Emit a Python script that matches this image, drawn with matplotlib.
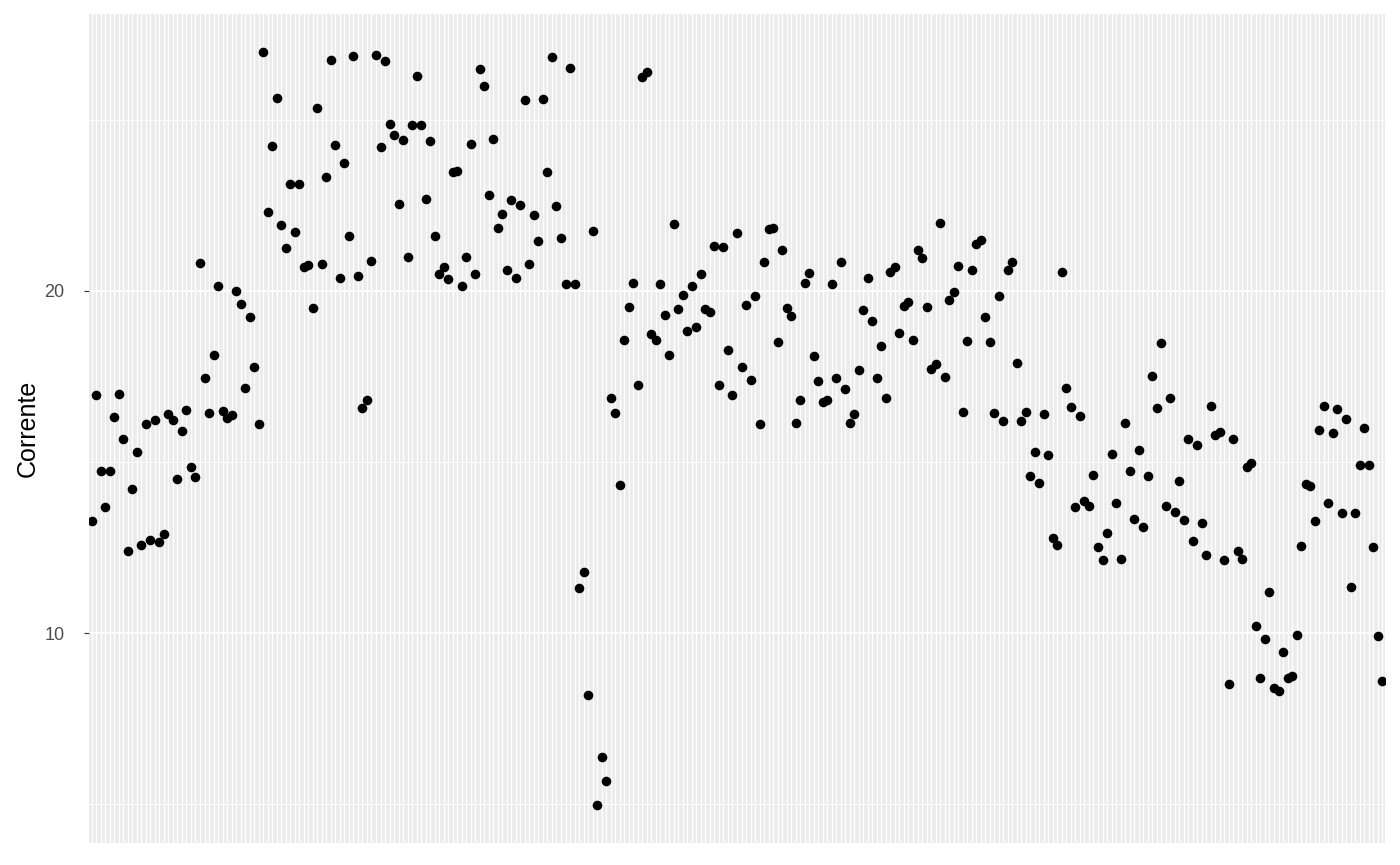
import matplotlib.pyplot as plt
import numpy as np

plt.rcParams['font.family'] = ['Liberation Sans', 'DejaVu Sans']

# one reading per category, in order along the x axis
corrente = [
    13.29, 16.97, 14.75, 13.69, 14.75, 16.33, 17.00, 15.68, 12.41, 14.22,
    15.29, 12.58, 16.11, 12.72, 16.23, 12.66, 12.91, 16.41, 16.23, 14.51,
    15.91, 16.53, 14.85, 14.57, 20.82, 17.46, 16.44, 18.13, 20.13, 16.50,
    16.29, 16.38, 20.00, 19.62, 17.15, 19.24, 17.78, 16.12, 26.99, 22.32,
    24.23, 25.65, 21.94, 21.26, 23.13, 21.72, 23.13, 20.71, 20.77, 19.51,
    25.35, 20.79, 23.33, 26.75, 24.26, 20.39, 23.75, 21.60, 26.87, 20.45,
    16.59, 16.81, 20.88, 26.90, 24.20, 26.72, 24.88, 24.57, 22.54, 24.42,
    20.99, 24.85, 26.27, 24.84, 22.70, 24.37, 21.61, 20.48, 20.70, 20.35,
    23.47, 23.50, 20.14, 20.99, 24.29, 20.49, 26.49, 26.00, 22.81, 24.44,
    21.85, 22.26, 20.60, 22.67, 20.39, 22.50, 25.59, 20.80, 22.23, 21.46,
    25.62, 23.48, 26.84, 22.47, 21.55, 20.21, 26.50, 20.21, 11.32, 11.79,
    8.18, 21.76, 4.97, 6.38, 5.69, 16.86, 16.44, 14.33, 18.58, 19.54,
    20.23, 17.24, 26.25, 26.40, 18.73, 18.58, 20.21, 19.30, 18.13, 21.96,
    19.48, 19.89, 18.84, 20.15, 18.96, 20.48, 19.48, 19.39, 21.32, 17.25,
    21.29, 18.28, 16.97, 21.70, 17.78, 19.60, 17.40, 19.86, 16.12, 20.85,
    21.82, 21.85, 18.52, 21.20, 19.49, 19.26, 16.15, 16.81, 20.23, 20.51,
    18.11, 17.36, 16.74, 16.80, 20.21, 17.46, 20.85, 17.12, 16.15, 16.40,
    17.69, 19.45, 20.39, 19.12, 17.46, 18.40, 16.86, 20.55, 20.70, 18.76,
    19.55, 19.67, 18.58, 21.20, 20.97, 19.54, 17.72, 17.87, 21.97, 17.49,
    19.74, 19.98, 20.74, 16.47, 18.55, 20.60, 21.36, 21.48, 19.24, 18.52,
    16.44, 19.86, 16.21, 20.60, 20.85, 17.90, 16.21, 16.47, 14.60, 15.29,
    14.39, 16.41, 15.20, 12.79, 12.58, 20.54, 17.17, 16.62, 13.69, 16.35,
    13.85, 13.73, 14.63, 12.53, 12.14, 12.94, 15.24, 13.81, 12.17, 16.15,
    14.75, 13.34, 15.35, 13.10, 14.60, 17.52, 16.59, 18.49, 13.72, 16.88,
    13.54, 14.45, 13.31, 15.68, 12.70, 15.50, 13.22, 12.29, 16.65, 15.80,
    15.88, 12.14, 8.52, 15.68, 12.41, 12.17, 14.85, 14.97, 10.21, 8.70,
    9.83, 11.21, 8.39, 8.31, 9.45, 8.70, 8.76, 9.95, 12.56, 14.37,
    14.31, 13.28, 15.94, 16.65, 13.81, 15.85, 16.56, 13.51, 16.26, 11.35,
    13.51, 14.90, 16.00, 14.90, 12.53, 9.92, 8.59,
]
y_major = [10, 20]
y_minor = [5, 15, 25]

x = np.arange(len(corrente))

fig = plt.figure(figsize=(14, 8.65), dpi=100)
ax = fig.add_axes([89/1400, 22/865, 1296/1400, 829/865])
ax.set_facecolor('#EBEBEB')

# discrete x scale, ggplot style padding
ax.set_xlim(-0.6, len(corrente) - 1 + 0.6)
lo, hi = min(corrente), max(corrente)
pad = (hi - lo) * 0.05
ax.set_ylim(lo - pad, hi + pad)

ax.set_xticks(x)
ax.set_xticklabels([])
ax.tick_params(axis='x', length=0)
ax.set_yticks(y_major)
ax.set_yticks(y_minor, minor=True)
ax.tick_params(axis='y', which='major', length=3.5, width=0.8, color='#333333',
               labelsize=13, labelcolor='#4D4D4D', pad=14)
ax.tick_params(axis='y', which='minor', length=0)

ax.grid(True, axis='x', which='major', color='white', linewidth=1.0)
ax.grid(True, axis='y', which='major', color='white', linewidth=1.1)
ax.grid(True, axis='y', which='minor', color='white', linewidth=0.55)
ax.set_axisbelow(True)

for s in ax.spines.values():
    s.set_visible(False)

ax.scatter(x, corrente, s=48, color='black', linewidths=0, zorder=3)

fig.text(28/1400, 1 - 428.5/865, 'Corrente', rotation=90, ha='center',
         va='center', fontsize=18, color='black')

fig.savefig('out.png', dpi=100)
